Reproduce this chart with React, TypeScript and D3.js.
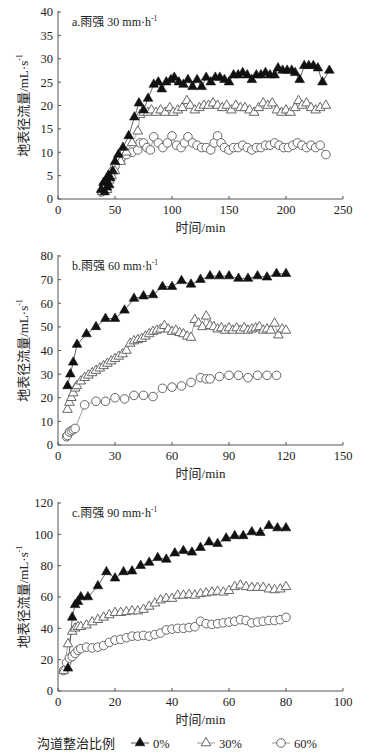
import React from 'react';
import * as d3 from 'd3';

type P = [number, number];

// Panel a: 30 mm/h
const a0: P[] = [[38,2],[40,3.5],[41,1.5],[42,4],[43,2.5],[44,5],[45,3],[46,4.5],[48,6],[50,8],[53,9.5],[57,11],[62,13.5],[67,17.5],[71,20.5],[75,19],[79,21.5],[84,24.5],[88,25],[91,23.5],[95,25],[99,25.5],[102,26],[106,25],[110,24.5],[114,25.5],[118,24],[122,25.5],[126,24],[130,26],[134,25],[138,26],[142,26],[146,25.5],[150,25],[154,26.5],[158,26.5],[162,27],[166,26.5],[170,25.5],[174,26.5],[178,26.5],[182,27],[186,26.5],[190,26.5],[193,28],[197,27.5],[201,27.5],[205,27.5],[208,27],[212,25.5],[216,28.5],[220,28.5],[224,28.5],[228,28],[232,25],[238,27.5]];
const a30: P[] = [[39,1.5],[41,3],[43,2],[45,4],[47,5],[50,6],[55,8],[60,10],[65,12],[70,14.5],[72,18],[75,18.5],[79,18.5],[82,19],[86,18.5],[90,19],[94,18.5],[98,19.5],[101,18.5],[105,19],[109,19.5],[113,21],[116,20],[120,19],[124,19.5],[128,20],[132,20],[136,20.5],[140,20],[144,19.5],[148,20],[152,19],[156,20],[160,19.5],[164,19.5],[168,19],[172,18.5],[176,19.5],[180,20.5],[184,20],[188,20.5],[192,19],[196,18.5],[200,19],[204,18.5],[208,19.5],[211,21],[214,20],[218,20.5],[222,19.5],[226,19],[230,19.5],[235,20]];
const a60: P[] = [[38,1.5],[40,3],[42,2],[44,4],[46,5],[48,6],[50,7],[55,8.5],[60,9.5],[65,10],[70,10.5],[72,12],[75,12],[78,11],[81,10.5],[84,13.3],[88,12],[92,11],[96,12],[100,13.5],[104,11.5],[108,11],[111,12],[114,13.3],[118,12],[122,11.5],[126,11],[130,11],[134,10.5],[137,12],[140,13.5],[143,12],[146,11],[150,10.5],[154,11],[158,11],[162,11.5],[166,11],[170,10.5],[174,11],[178,11],[182,11.5],[186,11.5],[190,12],[194,11.5],[198,11],[202,11],[206,11.5],[210,12],[214,11.5],[218,11],[222,11.5],[226,11],[230,11.5],[235,9.5]];

// Panel b: 60 mm/h
const b0: P[] = [[5,25],[6.5,30],[8,35],[10,42.5],[15,47],[20,50],[25,53.5],[30,53.5],[35,57],[40,62],[45,63],[50,63.5],[55,67],[60,67],[65,69.5],[70,68],[75,70],[80,71.5],[85,71.5],[90,71.5],[95,70.5],[100,70.5],[105,71.5],[110,71],[115,72.5],[120,72.5]];
const b30: P[] = [[5,15],[6,18],[7,20],[8,22],[9,24],[10,25],[12,27],[14,28.5],[16,29.5],[18,30.5],[20,31.5],[22,32.5],[24,33.5],[26,34.5],[28,35.5],[30,36.5],[32,37.5],[34,38.5],[36,40],[38,43],[40,44],[42,44.5],[44,45],[46,46],[48,47],[50,48],[52,48.5],[54,49],[56,50.5],[58,49],[60,48],[62,48.5],[64,47.5],[66,47],[68,46],[70,45.5],[72,53],[74,51.5],[76,50],[78,54.5],[80,50.5],[82,50],[84,49],[86,49.5],[88,48.5],[90,49.5],[92,48.5],[94,49.5],[96,48.5],[98,49.5],[100,48.5],[102,49],[104,49.5],[106,50],[108,48.5],[110,49],[112,48.5],[114,51.5],[116,46.5],[118,49],[120,48.5]];
const b60: P[] = [[4.5,3.5],[5,4],[6,5.5],[7,6],[8,6.5],[9,7],[14,17],[20,18.5],[25,18.5],[30,20],[35,19.5],[40,21],[45,21],[50,20.5],[55,24],[60,24.5],[65,25],[70,26.5],[75,28.5],[78,28],[80,28],[85,29],[90,29.5],[95,29.5],[100,28.5],[105,29.5],[110,29.5],[115,29.5]];

// Panel c: 90 mm/h
const c0: P[] = [[3.5,14.5],[5,47],[6,55],[7,57],[8,60],[10.5,60],[14,67],[17,76],[20,72],[23,76],[26,76.5],[29,80],[32,82],[35,85],[38,84],[41,88],[44,89.5],[47,88.5],[50,91.5],[53,95],[56,94],[59,97.5],[62,99],[65,99],[68,101.5],[71,101],[74,105.5],[77,104],[80,104]];
const c30: P[] = [[2,13],[3.5,30],[5,38],[6,40],[7,41],[8,41],[10,42],[12,44],[14,45.5],[16,47],[18,48.5],[20,50],[22,50],[24,50.5],[26,51],[28,51],[30,52],[32,54],[34,56],[36,58],[38,59],[40,59],[42,61],[44,61],[46,61.5],[48,61],[50,62],[52,62.5],[54,63],[56,63.5],[58,63],[60,64],[62,66.5],[64,67.5],[66,66.5],[68,66],[70,66],[72,66],[74,65],[76,64.5],[78,65],[80,66.5]];
const c60: P[] = [[2,13],[3,18],[4,21],[5,22],[6,24],[7,26],[8,27],[10,28],[12,27.5],[14,28],[16,29],[18,31],[20,32.5],[22,33],[24,34],[26,35],[28,35],[30,35.5],[32,35],[34,36],[36,37],[38,39],[40,39.5],[42,40],[44,40],[46,40.5],[48,41],[50,44.5],[52,43],[54,42.5],[56,43],[58,43.5],[60,44],[62,44.5],[64,45.5],[66,45],[68,43.5],[70,44],[72,44.5],[74,45],[76,45],[78,45.5],[80,47]];

const panelTitles = ['a.雨强 30 mm·h', 'b.雨强 60 mm·h', 'c.雨强 90 mm·h'];
const xDomains: P[] = [[0, 250], [0, 150], [0, 100]];
const yDomains: P[] = [[0, 40], [0, 80], [0, 120]];
const xTickVals = [d3.range(0, 251, 50), d3.range(0, 151, 30), d3.range(0, 101, 20)];
const yTickVals = [d3.range(0, 41, 5), d3.range(0, 81, 10), d3.range(0, 121, 20)];
const panelData = [[a0, a30, a60], [b0, b30, b60], [c0, c30, c60]];
const legendLabels = ['0%', '30%', '60%'];

const FONT = "'Times New Roman','Liberation Serif','Noto Sans CJK SC',serif";
const CJK = "'Noto Sans CJK SC','Liberation Serif',serif";

const LEFT = 58, RIGHT = 343;
const panelTops = [12, 256, 503];
const panelBottoms = [199, 445, 691];

const triPath = d3.symbol(d3.symbolTriangle, 40)() as string;

function Marker({ kind, x, y }: { kind: number; x: number; y: number }) {
  if (kind === 0) return <path d={triPath} transform={`translate(${x},${y})`} fill="#111" stroke="#111" strokeWidth={0.6} />;
  if (kind === 1) return <path d={triPath} transform={`translate(${x},${y})`} fill="#fff" stroke="#666" strokeWidth={1} />;
  return <circle cx={x} cy={y} r={4.3} fill="#fff" stroke="#666" strokeWidth={1} />;
}

const lineColors = ['#555', '#999', '#999'];

function Panel({ idx }: { idx: number }) {
  const top = panelTops[idx], bottom = panelBottoms[idx];
  const x = d3.scaleLinear().domain(xDomains[idx]).range([LEFT, RIGHT]);
  const y = d3.scaleLinear().domain(yDomains[idx]).range([bottom, top]);
  const line = d3.line<P>().x(d => x(d[0])).y(d => y(d[1]));
  const order = [2, 1, 0];
  return (
    <g>
      <line x1={LEFT} x2={LEFT} y1={top - 1} y2={bottom} stroke="#555" strokeWidth={1} />
      <line x1={LEFT} x2={RIGHT} y1={bottom} y2={bottom} stroke="#555" strokeWidth={1} />
      {yTickVals[idx].map(v => (
        <g key={'y' + v}>
          <line x1={LEFT} x2={LEFT + 3} y1={y(v)} y2={y(v)} stroke="#555" />
          <text x={LEFT - 5} y={y(v)} dy="0.35em" textAnchor="end" fontFamily={FONT} fontSize={12.5} fill="#222">{v}</text>
        </g>
      ))}
      {xTickVals[idx].map(v => (
        <g key={'x' + v}>
          <line x1={x(v)} x2={x(v)} y1={bottom} y2={bottom - 3} stroke="#555" />
          <text x={x(v)} y={bottom + 15} textAnchor="middle" fontFamily={FONT} fontSize={12.5} fill="#222">{v}</text>
        </g>
      ))}
      <text x={(LEFT + RIGHT) / 2} y={bottom + 33} textAnchor="middle" fontFamily={FONT} fontSize={13} fill="#222">时间/min</text>
      <text transform={`translate(28,${(top + bottom) / 2}) rotate(-90)`} textAnchor="middle" fontFamily={FONT} fontSize={13} fill="#222">
        地表径流量/mL·s<tspan fontSize={8} dy={-6}>-1</tspan>
      </text>
      <text x={72} y={top + 14} fontFamily={FONT} fontSize={12} fill="#222">
        {panelTitles[idx]}<tspan fontSize={7.5} dy={-5}>-1</tspan>
      </text>
      {order.map(s => (
        <path key={'l' + s} d={line(panelData[idx][s]) as string} fill="none" stroke={lineColors[s]} strokeWidth={0.9} />
      ))}
      {order.map(s => (
        <g key={'m' + s}>
          {panelData[idx][s].map((d, i) => <Marker key={i} kind={s} x={x(d[0])} y={y(d[1])} />)}
        </g>
      ))}
    </g>
  );
}

export default function App() {
  const legendX = [131, 197, 272];
  const legendY = 743;
  return (
    <svg width={380} height={756} style={{ position: 'absolute', left: 0, top: 0, background: '#fff' }}>
      <rect width={380} height={756} fill="#fff" />
      {[0, 1, 2].map(i => <Panel key={i} idx={i} />)}
      <text x={37} y={legendY + 5} fontFamily={CJK} fontSize={13} fill="#222">沟道整治比例</text>
      {legendLabels.map((lab, i) => (
        <g key={lab}>
          <line x1={legendX[i]} x2={legendX[i] + 18} y1={legendY} y2={legendY} stroke={lineColors[i]} strokeWidth={1} />
          <Marker kind={i} x={legendX[i] + 9} y={legendY} />
          <text x={legendX[i] + 22} y={legendY + 4.5} fontFamily={FONT} fontSize={12.5} fill="#222">{lab}</text>
        </g>
      ))}
    </svg>
  );
}
